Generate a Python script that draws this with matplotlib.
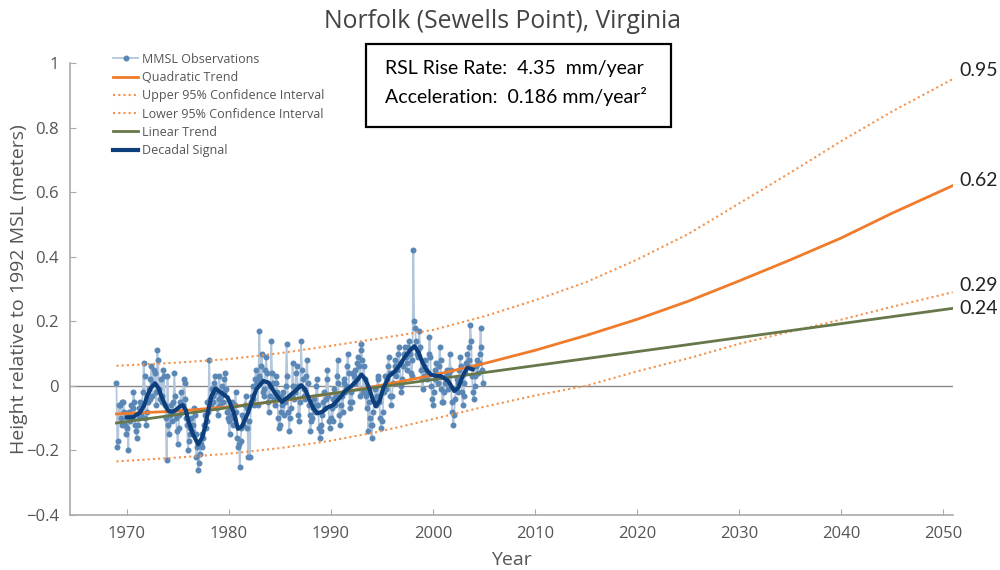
import numpy as np
import matplotlib.pyplot as plt
from matplotlib.patches import Rectangle

plt.rcParams['font.family'] = ['Open Sans', 'DejaVu Sans']

# monthly mean sea level, one row per year (Jan..Dec), metres
years = np.arange(1969, 2005)
mmsl = [
    [0.01, -0.19, -0.17, -0.06, -0.06, -0.10, -0.12, -0.05, -0.05, -0.08, -0.12, -0.15],  # 1969
    [-0.13, -0.09, -0.20, -0.08, -0.11, -0.06, -0.10, -0.07, -0.02, -0.05, -0.12, -0.14],
    [-0.16, -0.12, -0.10, -0.07, -0.05, -0.09, -0.06, -0.02, 0.07, 0.03, -0.10, -0.12],
    [-0.08, -0.05, -0.01, -0.04, 0.02, 0.06, -0.03, 0.01, 0.05, 0.04, -0.02, -0.06],
    [0.11, 0.08, -0.01, -0.04, 0.02, -0.05, -0.03, 0.05, 0.03, -0.06, -0.10, -0.23],
    [0.03, -0.12, -0.15, -0.09, -0.06, -0.11, -0.08, -0.05, 0.04, -0.03, -0.10, -0.14],  # 1974
    [-0.18, -0.13, -0.09, -0.05, -0.02, -0.08, -0.06, 0.02, 0.01, -0.04, -0.10, -0.12],
    [-0.20, -0.17, -0.15, -0.13, -0.10, -0.14, -0.12, -0.07, -0.09, -0.15, -0.22, -0.19],
    [-0.26, -0.24, -0.21, -0.18, -0.15, -0.19, -0.16, -0.12, -0.09, -0.13, -0.11, -0.05],
    [-0.08, 0.08, -0.04, -0.06, -0.01, -0.03, -0.05, 0.01, 0.03, -0.02, -0.07, -0.09],
    [-0.04, 0.03, -0.06, -0.03, 0.00, -0.05, -0.02, 0.02, 0.04, -0.01, -0.08, -0.10],  # 1979
    [-0.11, -0.15, -0.07, -0.09, -0.05, -0.12, -0.10, -0.06, -0.02, -0.08, -0.16, -0.19],
    [-0.18, -0.25, -0.17, -0.13, -0.09, -0.12, -0.10, -0.06, -0.03, -0.07, -0.13, -0.22],
    [-0.11, -0.22, -0.05, -0.03, 0.00, -0.04, -0.06, 0.02, 0.05, 0.01, -0.06, 0.03],
    [0.17, 0.02, 0.06, 0.10, -0.02, -0.01, -0.03, 0.05, 0.09, 0.04, -0.05, -0.08],
    [0.00, -0.03, 0.14, 0.04, 0.01, -0.04, -0.06, 0.01, 0.03, -0.02, -0.10, -0.13],  # 1984
    [-0.12, -0.08, -0.03, -0.06, -0.02, -0.09, -0.05, 0.00, 0.13, 0.03, -0.08, -0.14],
    [-0.10, -0.07, -0.03, 0.07, 0.00, -0.04, -0.02, 0.04, 0.06, 0.00, -0.09, -0.11],
    [-0.05, 0.14, 0.05, 0.02, -0.01, -0.03, -0.04, 0.03, 0.08, 0.01, -0.06, -0.09],
    [-0.14, -0.11, -0.10, -0.07, -0.04, -0.08, -0.06, 0.00, 0.02, -0.06, -0.13, -0.16],
    [-0.12, -0.14, -0.09, -0.05, -0.02, -0.07, -0.04, 0.02, 0.05, -0.03, -0.11, -0.13],  # 1989
    [-0.10, -0.07, -0.11, -0.04, -0.01, -0.06, -0.03, 0.03, 0.08, 0.01, -0.09, -0.12],
    [-0.06, -0.03, -0.08, 0.01, 0.02, -0.02, 0.00, 0.06, 0.10, 0.04, -0.05, -0.07],
    [-0.02, -0.05, 0.04, 0.03, 0.05, 0.01, 0.02, 0.07, 0.09, 0.06, -0.03, 0.11],
    [0.13, 0.08, -0.02, 0.06, 0.02, -0.03, -0.07, -0.02, -0.14, -0.05, -0.10, -0.12],
    [-0.16, -0.12, -0.08, -0.04, -0.01, -0.06, -0.03, 0.03, 0.02, -0.05, -0.10, -0.13],  # 1994
    [-0.11, -0.08, -0.02, 0.00, 0.03, -0.01, 0.02, 0.06, 0.09, 0.04, -0.03, -0.06],
    [-0.03, 0.01, 0.04, 0.06, 0.08, 0.03, 0.05, 0.10, 0.12, 0.07, 0.00, -0.02],
    [0.02, 0.06, 0.10, 0.12, 0.09, 0.05, 0.07, 0.12, 0.14, 0.10, 0.04, 0.03],
    [0.08, 0.42, 0.20, 0.18, 0.14, 0.10, 0.09, 0.11, 0.17, 0.12, 0.05, 0.02],
    [-0.01, 0.03, 0.06, 0.08, 0.05, 0.02, 0.04, 0.10, 0.15, 0.09, 0.00, -0.04],  # 1999
    [-0.06, -0.02, 0.02, 0.05, 0.07, 0.03, 0.01, 0.06, 0.12, 0.08, -0.01, -0.05],
    [-0.05, -0.02, 0.01, 0.03, 0.05, 0.01, -0.01, 0.04, 0.10, 0.05, -0.05, -0.08],
    [-0.12, -0.09, -0.04, -0.01, 0.02, -0.02, 0.01, 0.05, 0.09, 0.06, -0.02, -0.06],
    [-0.03, 0.01, 0.04, 0.07, 0.10, 0.06, 0.08, 0.12, 0.19, 0.14, 0.03, -0.02],
    [-0.04, 0.00, 0.03, 0.06, 0.08, 0.04, 0.07, 0.10, 0.18, 0.12, 0.05, 0.01],  # 2004
]

# decadal signal
dec_t = [1970.0, 1970.6, 1971.3, 1971.7, 1972.0, 1972.4, 1972.8, 1973.1, 1973.4, 1973.8,
         1974.1, 1974.5, 1974.9, 1975.2, 1975.5, 1975.8, 1976.0, 1976.5, 1977.0, 1977.4,
         1977.7, 1978.0, 1978.3, 1978.7, 1979.2, 1979.9, 1980.5, 1980.9, 1981.3, 1981.9,
         1982.3, 1982.7, 1983.4, 1983.9, 1984.5, 1985.2, 1985.8, 1986.5, 1987.1, 1987.5,
         1987.9, 1988.3, 1988.7, 1989.2, 1989.6, 1990.2, 1990.8, 1991.4, 1992.0, 1992.6,
         1993.0, 1993.4, 1993.8, 1994.1, 1994.4, 1994.8, 1995.1, 1995.7, 1996.3, 1996.8,
         1997.2, 1997.7, 1998.2, 1998.6, 1999.0, 1999.4, 1999.8, 2000.3, 2000.8, 2001.5,
         2002.1, 2002.5, 2002.8, 2003.1, 2003.4, 2003.9]
dec_h = [-0.098, -0.097, -0.083, -0.062, -0.032, -0.005, 0.007, -0.006, -0.032, -0.062,
         -0.078, -0.080, -0.073, -0.064, -0.060, -0.075, -0.104, -0.150, -0.181, -0.160,
         -0.125, -0.075, -0.032, -0.008, -0.020, -0.036, -0.083, -0.133, -0.125, -0.083,
         -0.045, -0.011, 0.015, 0.010, -0.021, -0.050, -0.035, -0.016, 0.002, -0.012,
         -0.042, -0.070, -0.085, -0.080, -0.068, -0.060, -0.040, -0.016, -0.001, 0.018,
         0.035, 0.020, -0.011, -0.042, -0.063, -0.045, -0.011, 0.030, 0.046, 0.066,
         0.087, 0.108, 0.123, 0.103, 0.071, 0.048, 0.035, 0.031, 0.030, 0.015,
         -0.016, -0.005, 0.020, 0.042, 0.056, 0.051]

# trend curves
trend_t = [1969, 1975, 1980, 1985, 1990, 1995, 2000, 2005, 2010, 2015, 2020, 2025,
           2030, 2035, 2040, 2045, 2050.92]
quad = [-0.087, -0.078, -0.065, -0.047, -0.025, 0.002, 0.033, 0.069, 0.110, 0.156,
        0.206, 0.262, 0.325, 0.390, 0.458, 0.535, 0.62]
upper = [0.062, 0.072, 0.083, 0.101, 0.124, 0.148, 0.173, 0.215, 0.265, 0.321,
         0.391, 0.470, 0.565, 0.660, 0.758, 0.850, 0.95]
lower = [-0.234, -0.222, -0.210, -0.193, -0.170, -0.140, -0.103, -0.065, -0.030, 0.0,
         0.045, 0.085, 0.130, 0.168, 0.205, 0.245, 0.29]
lin_t = [1969, 2050.92]
lin = [-0.115, 0.24]

end_labels = ['0.95', '0.62', '0.29', '0.24']
end_vals = [upper[-1], quad[-1], lower[-1], lin[-1]]
end_dy = [6, 4, 5, 0]

obs_t = np.array([y + m / 12 for y in years for m in range(12)])
obs_h = np.array(mmsl).ravel()

fig = plt.figure(figsize=(10, 5.7), dpi=100)
ax = fig.add_axes([0.07, 0.0965, 0.883, 0.793])

ax.axhline(0, color='#888888', lw=1, zorder=1)
l_obs, = ax.plot(obs_t, obs_h, color='#b3c7dc', lw=1.3, marker='o', ms=3.3,
                 mfc='#5a87b6', mec='#5a87b6', zorder=2, label='MMSL Observations')
l_q, = ax.plot(trend_t, quad, color='#f07b2a', lw=2, zorder=3, label='Quadratic Trend')
l_u, = ax.plot(trend_t, upper, color='#f4924a', lw=1.5, ls=(0, (1, 1.5)), zorder=3,
               label='Upper 95% Confidence Interval')
l_l, = ax.plot(trend_t, lower, color='#f4924a', lw=1.5, ls=(0, (1, 1.5)), zorder=3,
               label='Lower 95% Confidence Interval')
l_lin, = ax.plot(lin_t, lin, color='#66784a', lw=2, zorder=3, label='Linear Trend')
l_d, = ax.plot(dec_t, dec_h, color='#0d3f7c', lw=3, zorder=4, label='Decadal Signal',
               solid_joinstyle='round')

for lab, v, dy in zip(end_labels, end_vals, end_dy):
    ax.annotate(lab, (2050.92, v), xytext=(5, dy), textcoords='offset points',
                va='center', ha='left', fontsize=14, family=['Lato', 'DejaVu Sans'],
                color='#222222', annotation_clip=False)

ax.set_xlim(1964.45, 2050.95)
ax.set_ylim(-0.4, 1.0)
ax.set_xticks(range(1970, 2051, 10))
ax.set_yticks([-0.4, -0.2, 0, 0.2, 0.4, 0.6, 0.8, 1.0])
ax.set_yticklabels(['\u22120.4', '\u22120.2', '0', '0.2', '0.4', '0.6', '0.8', '1'])
for s in ['top', 'right']:
    ax.spines[s].set_visible(False)
for s in ['left', 'bottom']:
    ax.spines[s].set_color('#aaaaaa')
    ax.spines[s].set_linewidth(1.2)
ax.tick_params(direction='in', length=4, color='#aaaaaa', labelsize=12,
               labelcolor='#555555', pad=8)
ax.set_xlabel('Year', fontsize=14, color='#555555')
ax.xaxis.set_label_coords(0.5, -0.08)
ax.set_ylabel('Height relative to 1992 MSL (meters)', fontsize=14, color='#555555')
ax.yaxis.set_label_coords(-0.048, 0.5)

fig.suptitle('Norfolk (Sewells Point), Virginia', fontsize=17.8, color='#444444',
             x=0.503, y=0.985)

leg = fig.legend(handles=[l_obs, l_q, l_u, l_l, l_lin, l_d], loc='upper left',
                 bbox_to_anchor=(0.102, 0.927), frameon=False, fontsize=9,
                 labelcolor='#555555', handlelength=2.0, handletextpad=0.3,
                 labelspacing=0.42)

# rate / acceleration box
fig.patches.append(Rectangle((0.366, 0.777), 0.305, 0.146, transform=fig.transFigure,
                             fill=False, ec='black', lw=1.6))
fig.text(0.385, 0.879, 'RSL Rise Rate:  4.35  mm/year', fontsize=14,
         family=['Lato', 'DejaVu Sans'], va='center', color='black')
fig.text(0.385, 0.830, 'Acceleration:  0.186 mm/year\u00b2', fontsize=14,
         family=['Lato', 'DejaVu Sans'], va='center', color='black')

fig.savefig('out.png', dpi=100)
